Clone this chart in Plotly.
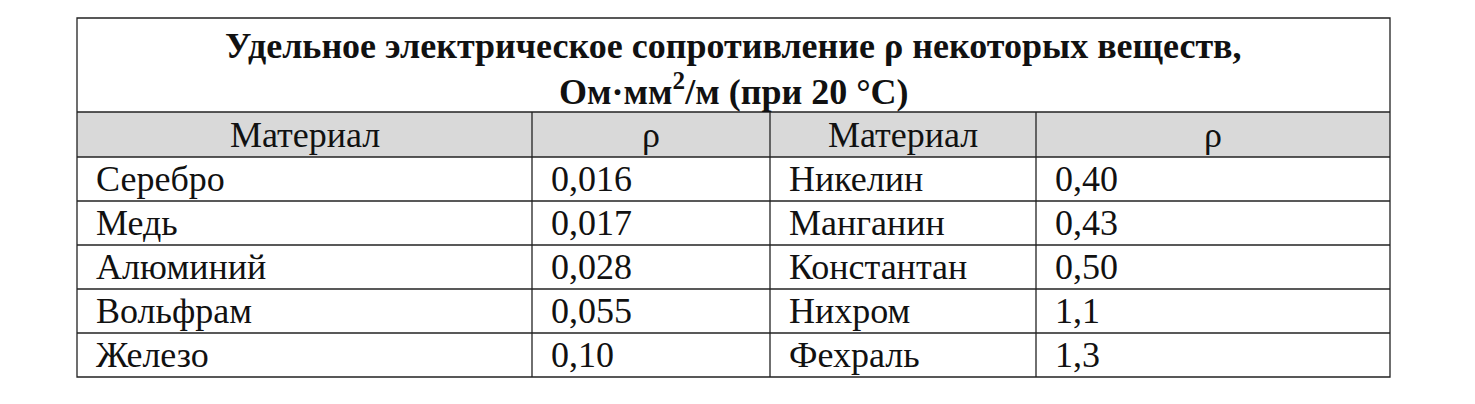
import plotly.graph_objects as go

title_lines = ["Удельное электрическое сопротивление ρ некоторых веществ,",
               "Ом·мм<sup>2</sup>/м (при 20 °C)"]
headers = ["Материал", "ρ", "Материал", "ρ"]
materials_left = ["Серебро", "Медь", "Алюминий", "Вольфрам", "Железо"]
rho_left = ["0,016", "0,017", "0,028", "0,055", "0,10"]
materials_right = ["Никелин", "Манганин", "Константан", "Нихром", "Фехраль"]
rho_right = ["0,40", "0,43", "0,50", "1,1", "1,3"]

W, H = 1475, 404
OFF = 8  # page body margin
col_edges = [77, 532, 770, 1036, 1390]
top, title_bottom, header_bottom = 18, 112, 157
row_h = 44
n_rows = len(materials_left)
bottom = header_bottom + n_rows * row_h
font = "Liberation Serif, Times New Roman, serif"
fsize = 36
line = dict(color="#222", width=1.3)

fig = go.Figure()
shapes = []
# header background
shapes.append(dict(type="rect", x0=col_edges[0], x1=col_edges[-1], y0=title_bottom, y1=header_bottom,
                   fillcolor="#d9d9d9", line=dict(width=0), layer="below"))
# outer border
shapes.append(dict(type="rect", x0=col_edges[0], x1=col_edges[-1], y0=top, y1=bottom, line=line))
# horizontal lines
for y in [title_bottom, header_bottom] + [header_bottom + i * row_h for i in range(1, n_rows)]:
    shapes.append(dict(type="line", x0=col_edges[0], x1=col_edges[-1], y0=y, y1=y, line=line))
# vertical lines
for x in col_edges[1:-1]:
    shapes.append(dict(type="line", x0=x, x1=x, y0=title_bottom, y1=bottom, line=line))

ann = []
cx = (col_edges[0] + col_edges[-1]) / 2
ann.append(dict(x=cx, y=46, text="<b>" + title_lines[0] + "</b>",
                showarrow=False, font=dict(family=font, size=fsize, color="#111")))
ann.append(dict(x=cx, y=89, text="<b>" + title_lines[1] + "</b>",
                showarrow=False, font=dict(family=font, size=fsize, color="#111")))
for i, h in enumerate(headers):
    ann.append(dict(x=(col_edges[i] + col_edges[i + 1]) / 2, y=(title_bottom + header_bottom) / 2,
                    text=h, showarrow=False, font=dict(family=font, size=fsize, color="#111")))
cols = [materials_left, rho_left, materials_right, rho_right]
for c, vals in enumerate(cols):
    for r, v in enumerate(vals):
        ann.append(dict(x=col_edges[c] + 17, y=header_bottom + r * row_h + row_h / 2, text=v,
                        xanchor="left", showarrow=False, font=dict(family=font, size=fsize, color="#111")))

fig.update_layout(
    width=W, height=H, margin=dict(l=0, r=0, t=0, b=0),
    plot_bgcolor="white", paper_bgcolor="white",
    xaxis=dict(range=[OFF, W + OFF], visible=False, fixedrange=True),
    yaxis=dict(range=[H + OFF, OFF], visible=False, fixedrange=True),
    shapes=shapes, annotations=ann, showlegend=False,
)
fig.write_html("out.html")
